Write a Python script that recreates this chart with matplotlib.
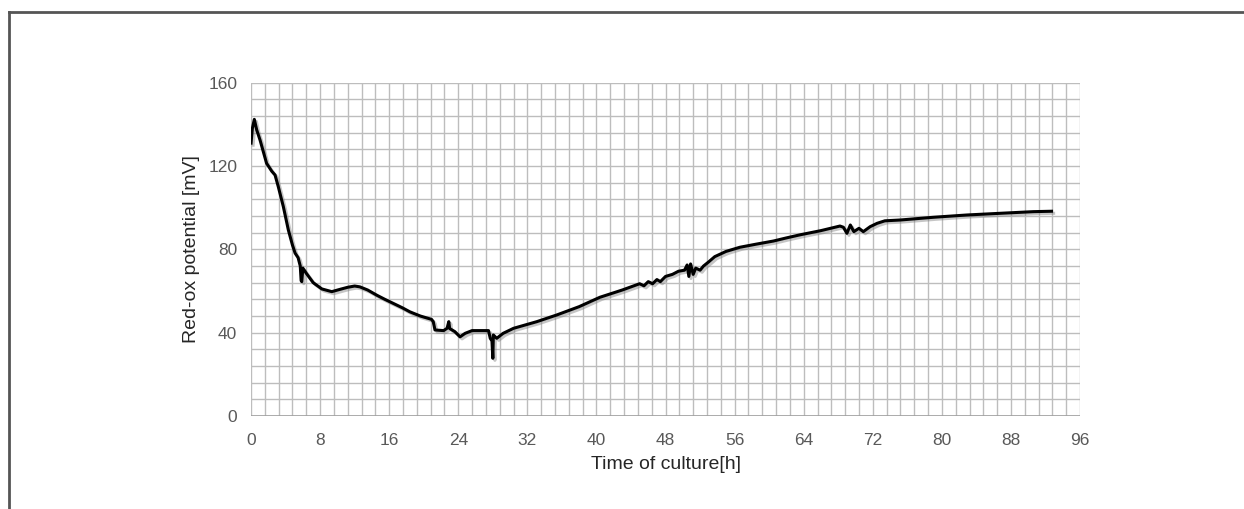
import matplotlib
matplotlib.use('Agg')
import matplotlib.pyplot as plt
import matplotlib.patheffects as pe
from matplotlib.lines import Line2D
import numpy as np

# time [h] and red-ox potential [mV]
time_h = [0.0, 0.15, 0.38, 0.66, 1.04, 1.8, 2.4, 2.78, 3.16, 3.74, 4.32, 4.8, 5.1, 5.45,
          5.7, 5.8, 5.87, 6.0, 6.4, 7.2, 8.2, 9.35, 10.3, 11.2, 12.0, 12.6, 13.5, 14.56,
          15.5, 16.5, 17.5, 18.4, 19.6, 20.9, 21.1, 21.3, 22.3, 22.7, 22.9, 23.0, 23.6,
          24.2, 24.8, 25.6, 27.5, 27.7, 27.9, 28.0, 28.06, 28.45, 29.2, 30.4, 33.1, 35.4,
          38.0, 40.4, 43.0, 45.0, 45.5, 46.0, 46.5, 47.0, 47.4, 48.0, 48.8, 49.5, 50.2,
          50.5, 50.7, 50.9, 51.2, 51.5, 52.0, 52.4, 53.0, 53.7, 55.0, 56.6, 58.5, 60.5,
          62.0, 63.6, 66.0, 68.2, 68.6, 69.0, 69.4, 69.8, 70.4, 70.9, 71.7, 72.5, 73.4,
          75.2, 79.0, 82.9, 86.7, 90.6, 92.7]
redox_mv = [131.0, 138.0, 142.4, 137.3, 132.5, 121.3, 117.5, 115.7, 110.0, 100.5, 89.3, 82.0,
            78.2, 76.0, 72.0, 65.0, 64.5, 71.0, 68.5, 64.0, 61.0, 59.7, 60.8, 61.8, 62.4,
            62.0, 60.5, 58.0, 56.0, 54.0, 52.0, 50.0, 48.0, 46.4, 45.3, 41.3, 41.0, 42.1,
            45.3, 42.0, 40.5, 38.0, 39.7, 41.0, 41.0, 37.3, 36.0, 27.7, 38.9, 37.3, 39.7,
            42.1, 45.3, 48.5, 52.5, 57.0, 60.5, 63.5, 62.5, 64.5, 63.5, 65.5, 64.5, 67.0,
            68.0, 69.5, 70.0, 72.5, 67.0, 73.0, 68.0, 71.0, 70.0, 72.0, 74.0, 76.5, 79.0,
            81.0, 82.5, 84.0, 85.5, 87.0, 89.0, 91.2, 90.6, 87.7, 91.7, 88.5, 90.1, 88.5,
            90.9, 92.5, 93.7, 94.1, 95.4, 96.5, 97.3, 98.1, 98.3]

xticks = np.arange(0, 97, 8)
yticks = np.arange(0, 161, 40)

plt.rcParams['font.family'] = ['Liberation Sans', 'DejaVu Sans']

fig = plt.figure(figsize=(12.44, 5.09), dpi=100)
ax = fig.add_axes([0.2018, 0.1827, 0.6664, 0.6548])

ax.plot(time_h, redox_mv, color='black', lw=2.2,
        path_effects=[pe.SimpleLineShadow(offset=(1.5, -1.5), shadow_color='gray', alpha=0.45),
                      pe.Normal()])

ax.set_xlim(0, 96)
ax.set_ylim(0, 160)
ax.set_xticks(xticks)
ax.set_yticks(yticks)
ax.set_xticks(np.arange(0, 96.01, 1.6), minor=True)
ax.set_yticks(np.arange(0, 160.01, 8), minor=True)
ax.grid(which='both', color='#bdbdbd', lw=1.0)
ax.set_axisbelow(True)
for s in ax.spines.values():
    s.set_visible(False)
ax.axhline(0, color='#a0a0a0', lw=1.2, zorder=1)
ax.tick_params(which='both', length=0, labelsize=12.5, labelcolor='#595959')
ax.tick_params(axis='x', pad=12)
ax.tick_params(axis='y', pad=10)

ax.set_xlabel('Time of culture[h]', fontsize=14, color='#262626', labelpad=6)
ax.set_ylabel('Red-ox potential [mV]', fontsize=14, color='#262626', labelpad=6)

# border of the cropped figure (left and top edges only)
fig.add_artist(Line2D([8.5 / 1244, 8.5 / 1244], [0, 1 - 12 / 509], color='#555555', lw=2,
                      transform=fig.transFigure))
fig.add_artist(Line2D([8.5 / 1244, 1], [1 - 12 / 509, 1 - 12 / 509], color='#555555', lw=2,
                      transform=fig.transFigure))

fig.savefig('out.png', dpi=100)
